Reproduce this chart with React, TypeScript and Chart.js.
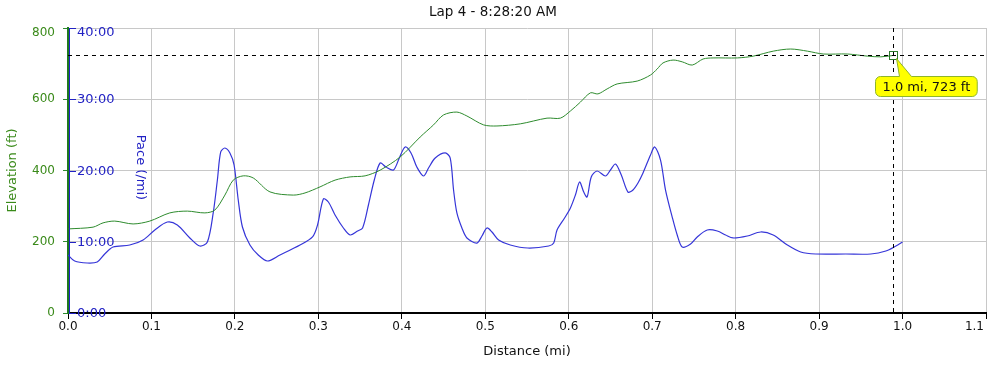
import React, { useEffect, useRef } from "react";
import { Chart, registerables } from "chart.js";

Chart.register(...registerables);

// ---------- data ----------
const chartTitle = "Lap 4 - 8:28:20 AM";

const elevDist = [
  0.0, 0.03, 0.042, 0.056, 0.078, 0.098, 0.122, 0.143, 0.164, 0.176, 0.188, 0.198, 0.21, 0.222,
  0.242, 0.27, 0.284, 0.302, 0.32, 0.338, 0.356, 0.374, 0.398, 0.422, 0.438, 0.45, 0.466, 0.478,
  0.498, 0.514, 0.542, 0.574, 0.59, 0.602, 0.614, 0.626, 0.635, 0.646, 0.658, 0.682, 0.698, 0.706,
  0.713, 0.725, 0.736, 0.748, 0.761, 0.773, 0.802, 0.821, 0.845, 0.866, 0.886, 0.905, 0.934, 0.958,
  0.974, 0.989,
];
const elevation = [
  236, 241, 253, 258, 250, 258, 281, 286, 281, 289, 331, 373, 385, 379,
  340, 331, 337, 354, 373, 382, 385, 401, 438, 494, 528, 556, 564, 553,
  528, 525, 531, 547, 547, 567, 592, 618, 615, 629, 643, 651, 668, 685,
  702, 710, 705, 696, 713, 716, 716, 721, 735, 741, 735, 727, 727, 721,
  719, 723,
];

const paceDist = [
  0.0, 0.008, 0.023, 0.035, 0.044, 0.054, 0.074, 0.09, 0.104, 0.119, 0.131, 0.146, 0.158, 0.167,
  0.174, 0.179, 0.183, 0.188, 0.194, 0.199, 0.204, 0.209, 0.218, 0.228, 0.239, 0.254, 0.278, 0.293,
  0.299, 0.306, 0.312, 0.32, 0.33, 0.338, 0.347, 0.353, 0.36, 0.367, 0.374, 0.381, 0.39, 0.397,
  0.404, 0.411, 0.418, 0.426, 0.432, 0.44, 0.452, 0.458, 0.462, 0.466, 0.472, 0.478, 0.49, 0.496,
  0.502, 0.508, 0.516, 0.53, 0.551, 0.576, 0.582, 0.586, 0.595, 0.602, 0.608, 0.613, 0.618, 0.622,
  0.627, 0.634, 0.644, 0.65, 0.656, 0.663, 0.671, 0.677, 0.683, 0.689, 0.698, 0.703, 0.71, 0.716,
  0.724, 0.73, 0.736, 0.746, 0.754, 0.766, 0.778, 0.788, 0.797, 0.814, 0.83, 0.845, 0.862, 0.878,
  0.896, 0.932, 0.962, 0.98, 0.992, 1.0,
];
// pace in minutes per mile
const pace = [
  8.14, 7.3, 7.02, 7.16, 8.28, 9.26, 9.54, 10.25, 11.65, 12.77, 12.35, 10.53, 9.4, 9.96,
  14.04, 18.67, 22.6, 23.16, 22.46, 20.77, 15.86, 12.07, 9.54, 8.14, 7.3, 8.14, 9.54, 10.67,
  12.35, 16.0, 15.58, 13.75, 11.93, 10.95, 11.51, 11.93, 15.16, 18.67, 21.05, 20.49, 20.07, 21.75,
  23.3, 22.46, 20.49, 19.23, 20.35, 21.75, 22.46, 21.75, 17.26, 14.04, 11.93, 10.53, 9.82, 10.81,
  11.93, 11.37, 10.25, 9.54, 9.12, 9.4, 9.82, 11.65, 13.33, 14.74, 16.56, 18.39, 16.98, 16.28,
  19.09, 19.93, 19.23, 20.07, 20.91, 19.37, 16.98, 17.26, 18.25, 19.65, 22.18, 23.3, 21.47, 17.26,
  13.47, 10.95, 9.26, 9.68, 10.67, 11.65, 11.51, 10.95, 10.53, 10.81, 11.37, 10.95, 9.54, 8.56,
  8.28, 8.28, 8.28, 8.7, 9.4, 9.96,
];

const paceTicks = [0, 10, 20, 30, 40];
const paceTickLabels = ["0:00", "10:00", "20:00", "30:00", "40:00"];
const elevTicks = [0, 200, 400, 600, 800];

const cursorDist = 0.989;
const cursorElev = 723;
const cursorLabel = "1.0 mi, 723 ft";

// ---------- styles ----------
const FONT = '"DejaVu Sans", Verdana, sans-serif';
const GREEN_LINE = "#2e8b2e";
const GREEN_TEXT = "#3a8a1a";
const BLUE_LINE = "#3535d8";
const BLUE_TEXT = "#2222c4";
const GRID = "#c8c8c8";

const overlayPlugin = {
  id: "overlay",
  afterDatasetsDraw(chart: any) {
    const { ctx, chartArea: a, scales } = chart;
    const xs = scales.x;
    const ys = scales.y;
    const y2 = scales.y2;
    ctx.save();

    // blue pace axis line
    ctx.strokeStyle = BLUE_TEXT;
    ctx.lineWidth = 1;
    ctx.beginPath();
    ctx.moveTo(a.left + 1.5, a.top);
    ctx.lineTo(a.left + 1.5, a.bottom);
    ctx.stroke();

    // pace ticks + labels (inside plot)
    ctx.font = `13px ${FONT}`;
    ctx.fillStyle = BLUE_TEXT;
    ctx.textAlign = "left";
    ctx.textBaseline = "middle";
    paceTicks.forEach((v, i) => {
      const py = Math.round(y2.getPixelForValue(v)) + 0.5;
      ctx.beginPath();
      ctx.moveTo(a.left + 1, py);
      ctx.lineTo(a.left + 8, py);
      ctx.stroke();
      const ly = Math.max(py, a.top + 5);
      ctx.fillText(paceTickLabels[i], a.left + 9, ly);
    });

    // top elevation label, nudged inside like the reference
    ctx.font = `12px ${FONT}`;
    ctx.fillStyle = GREEN_TEXT;
    ctx.textAlign = "right";
    ctx.fillText(String(elevTicks[elevTicks.length - 1]), a.left - 13, a.top + 5);

    // pace axis title, rotated +90
    ctx.save();
    ctx.translate(a.left + 72, (a.top + a.bottom) / 2 - 3);
    ctx.rotate(Math.PI / 2);
    ctx.font = `13px ${FONT}`;
    ctx.fillStyle = BLUE_TEXT;
    ctx.textAlign = "center";
    ctx.textBaseline = "middle";
    ctx.fillText("Pace (/mi)", 0, 0);
    ctx.restore();

    // last x tick label kept inside canvas
    ctx.font = `12px ${FONT}`;
    ctx.fillStyle = "#111";
    ctx.textAlign = "right";
    ctx.textBaseline = "middle";
    ctx.fillText((1.1).toFixed(1), chart.width - 4, a.bottom + 14);

    // crosshair
    const cx = Math.round(xs.getPixelForValue(cursorDist)) + 0.5;
    const cy = Math.round(ys.getPixelForValue(cursorElev)) + 0.5;
    ctx.strokeStyle = "#000";
    ctx.lineWidth = 1;
    ctx.setLineDash([4, 4]);
    ctx.beginPath();
    ctx.moveTo(a.left, cy);
    ctx.lineTo(a.right, cy);
    ctx.moveTo(cx, a.top);
    ctx.lineTo(cx, a.bottom);
    ctx.stroke();
    ctx.setLineDash([]);

    // marker square
    ctx.strokeStyle = "#2a7a2a";
    ctx.strokeRect(cx - 4, cy - 4, 8, 8);

    // callout
    ctx.font = `13px ${FONT}`;
    const tw = ctx.measureText(cursorLabel).width;
    const bx = cx - 18;
    const by = cy + 21;
    const bw = tw + 14;
    const bh = 20;
    const r = 5;
    ctx.beginPath();
    ctx.moveTo(bx + r, by);
    ctx.lineTo(cx + 6, by);
    ctx.lineTo(cx + 3, cy + 3);
    ctx.lineTo(cx + 18, by);
    ctx.lineTo(bx + bw - r, by);
    ctx.arcTo(bx + bw, by, bx + bw, by + r, r);
    ctx.lineTo(bx + bw, by + bh - r);
    ctx.arcTo(bx + bw, by + bh, bx + bw - r, by + bh, r);
    ctx.lineTo(bx + r, by + bh);
    ctx.arcTo(bx, by + bh, bx, by + bh - r, r);
    ctx.lineTo(bx, by + r);
    ctx.arcTo(bx, by, bx + r, by, r);
    ctx.closePath();
    ctx.fillStyle = "#ffff00";
    ctx.fill();
    ctx.strokeStyle = "#8fb52a";
    ctx.stroke();
    ctx.fillStyle = "#111";
    ctx.textAlign = "left";
    ctx.textBaseline = "middle";
    ctx.fillText(cursorLabel, bx + 7, by + bh / 2 + 1);

    ctx.restore();
  },
};

export default function App() {
  const canvasRef = useRef<HTMLCanvasElement | null>(null);

  useEffect(() => {
    document.body.style.margin = "0";
    const canvas = canvasRef.current;
    if (!canvas) return;

    const chart = new Chart(canvas, {
      type: "line",
      data: {
        datasets: [
          {
            label: "Elevation",
            data: elevDist.map((d, i) => ({ x: d, y: elevation[i] })),
            yAxisID: "y",
            borderColor: GREEN_LINE,
            borderWidth: 1,
            pointRadius: 0,
            tension: 0.3,
            fill: false,
          },
          {
            label: "Pace",
            data: paceDist.map((d, i) => ({ x: d, y: pace[i] })),
            yAxisID: "y2",
            borderColor: BLUE_LINE,
            borderWidth: 1.2,
            pointRadius: 0,
            tension: 0.3,
            fill: false,
          },
        ],
      },
      options: {
        responsive: false,
        animation: false,
        events: [],
        layout: { padding: { left: 0, right: 2, top: 0, bottom: 0 } },
        plugins: {
          legend: { display: false },
          tooltip: { enabled: false },
          title: {
            display: true,
            text: chartTitle,
            color: "#111",
            font: { family: FONT, size: 13.5, weight: "normal" },
            padding: { top: 4, bottom: 7.8 },
          },
        },
        scales: {
          x: {
            type: "linear",
            min: 0,
            max: 1.1,
            ticks: {
              stepSize: 0.1,
              autoSkip: false,
              maxRotation: 0,
              color: "#111",
              font: { family: FONT, size: 12 },
              padding: 1,
              callback: (v: any) => (Number(v) > 1.05 ? "" : Number(v).toFixed(1)),
            },
            grid: { color: GRID, tickColor: "#000", tickLength: 6, lineWidth: 1 },
            border: { color: "#000", width: 2 },
            title: {
              display: true,
              text: "Distance (mi)",
              color: "#111",
              font: { family: FONT, size: 13 },
              padding: { top: 0, bottom: 7.5 },
            },
            afterFit: (s: any) => {
              s.height = 54;
              s.paddingLeft = 0;
              s.paddingRight = 0;
            },
          },
          y: {
            position: "left",
            min: 0,
            max: 800,
            ticks: {
              stepSize: 200,
              color: GREEN_TEXT,
              font: { family: FONT, size: 12 },
              padding: 8,
              callback: (v: any) => (Number(v) >= 800 ? "" : String(v)),
            },
            grid: { color: GRID, tickColor: GREEN_LINE, tickLength: 5, lineWidth: 1 },
            border: { color: "#1e7a1e", width: 2 },
            title: {
              display: true,
              text: "Elevation (ft)",
              color: GREEN_TEXT,
              font: { family: FONT, size: 13 },
              padding: { top: 5, bottom: 0 },
            },
            afterFit: (s: any) => {
              s.width = 68;
              s.paddingTop = 0;
              s.paddingBottom = 0;
            },
          },
          y2: {
            display: false,
            position: "left",
            min: 0,
            max: 40,
          },
        },
      } as any,
      plugins: [overlayPlugin],
    });

    return () => chart.destroy();
  }, []);

  return (
    <div style={{ width: 988, height: 367, position: "relative" }}>
      <canvas ref={canvasRef} width={988} height={367} style={{ display: "block" }} />
    </div>
  );
}
